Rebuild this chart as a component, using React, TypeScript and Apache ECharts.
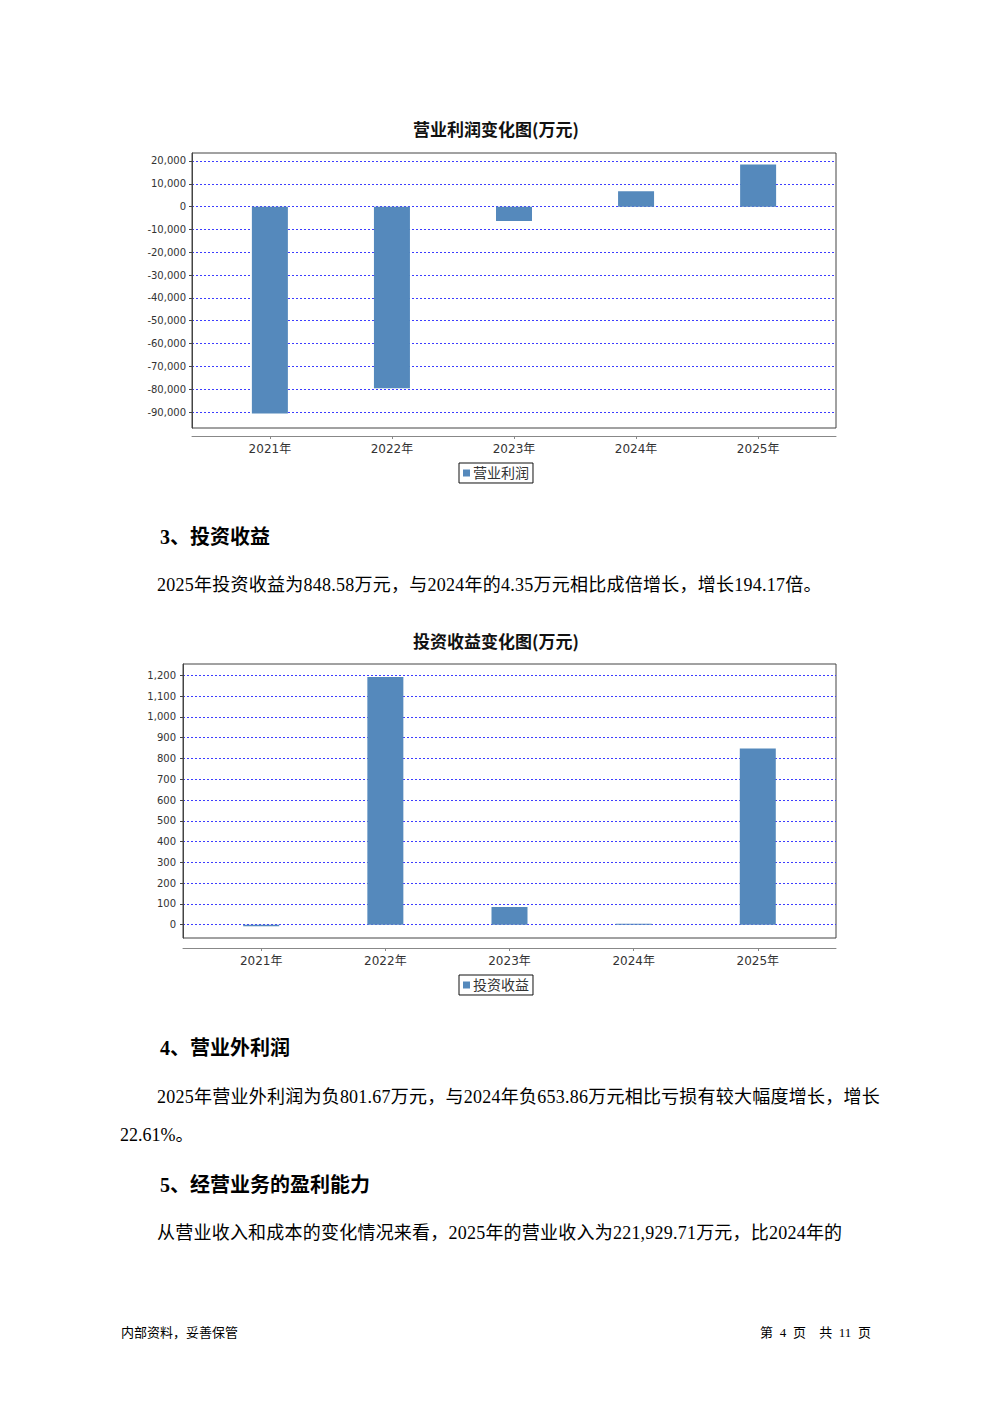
import React, { useEffect, useRef } from "react";
import * as echarts from "echarts";

const years = ["2021年", "2022年", "2023年", "2024年", "2025年"];
const yearIndex = [0, 1, 2, 3, 4];
const profitName = "营业利润";
const profitValues = [-90600, -79600, -6300, 6700, 18500];
const investName = "投资收益";
const investValues = [-8, 1192, 85, 4.35, 848.58];
const titles = ["营业利润变化图(万元)", "投资收益变化图(万元)"];

const headingFont = '"Liberation Serif", "Noto Sans CJK SC", serif';
const bodyFont = '"Liberation Serif", "Noto Sans CJK SC", serif';
const axisFont = '"DejaVu Sans", "Noto Sans CJK SC", sans-serif';

const barColor = "#5589bc";

function fmt(v: number): string {
  const s = Math.abs(Math.round(v)).toString().replace(/\B(?=(\d{3})+(?!\d))/g, ",");
  return (v < 0 ? "-" : "") + s;
}

function xAxisFor(gridIndex: number, min: number, max: number, offset: number, margin: number) {
  return {
    type: "value",
    gridIndex,
    min,
    max,
    minInterval: 1,
    maxInterval: 1,
    offset,
    position: "bottom",
    axisLine: { show: true, onZero: false, lineStyle: { color: "#888", width: 1 } },
    axisTick: { show: true, length: 3, customValues: yearIndex, lineStyle: { color: "#888" } },
    axisLabel: {
      customValues: yearIndex,
      showMinLabel: true,
      showMaxLabel: true,
      formatter: (v: number) => {
        const i = Math.round(v);
        return Math.abs(v - i) < 1e-6 ? years[i] ?? "" : "";
      },
      fontSize: 12,
      color: "#333",
      margin,
      fontFamily: axisFont,
    },
    splitLine: { show: false },
  };
}

function yAxisFor(gridIndex: number, min: number, max: number, step: number, margin: number) {
  return {
    type: "value",
    gridIndex,
    min,
    max,
    minInterval: step,
    maxInterval: step,
    axisLine: { show: true, onZero: false, lineStyle: { color: "#444", width: 1 } },
    axisTick: { show: true, length: 3, lineStyle: { color: "#444" } },
    axisLabel: {
      showMinLabel: false,
      showMaxLabel: false,
      fontSize: 10,
      color: "#333",
      margin,
      fontFamily: axisFont,
      formatter: (v: number) => fmt(v),
    },
    splitLine: {
      show: true,
      showMinLine: false,
      showMaxLine: false,
      lineStyle: { color: "#3d3dff", type: [2, 2], width: 1 },
    },
  };
}

function legendFor(name: string, top: number) {
  return {
    data: [name],
    left: "center",
    top,
    icon: "rect",
    itemWidth: 7,
    itemHeight: 7,
    itemGap: 5,
    borderColor: "#111",
    borderWidth: 1,
    borderRadius: 0,
    padding: [3, 4, 3, 4],
    textStyle: { fontSize: 14, color: "#333", fontFamily: axisFont, padding: [0, 0, 0, -2] },
  };
}

const textBlocks: { text: string; left?: number; right?: number; top: number; size: number; lh: number; bold?: boolean; ls?: number; ws?: number }[] = [
  { text: "3、投资收益", left: 160, top: 525, size: 20, lh: 24, bold: true },
  { text: "2025年投资收益为848.58万元，与2024年的4.35万元相比成倍增长，增长194.17倍。", left: 157, top: 573, size: 18, lh: 24, ls: 0.25 },
  { text: "4、营业外利润", left: 160, top: 1036, size: 20, lh: 24, bold: true },
  { text: "2025年营业外利润为负801.67万元，与2024年负653.86万元相比亏损有较大幅度增长，增长", left: 157, top: 1085, size: 18, lh: 24, ls: 0.24 },
  { text: "22.61%。", left: 120, top: 1123, size: 18, lh: 24 },
  { text: "5、经营业务的盈利能力", left: 160, top: 1173, size: 20, lh: 24, bold: true },
  { text: "从营业收入和成本的变化情况来看，2025年的营业收入为221,929.71万元，比2024年的", left: 157, top: 1221, size: 18, lh: 24, ls: 0.22 },
  { text: "内部资料，妥善保管", left: 121, top: 1325, size: 13, lh: 16 },
  { text: "第 4 页  共 11 页", right: 121, top: 1325, size: 13, lh: 16, ws: 3.4 },
];

export default function App() {
  const ref = useRef<HTMLDivElement>(null);

  useEffect(() => {
    if (!ref.current) return;
    const chart = echarts.init(ref.current, undefined, { renderer: "svg" });
    chart.setOption({
      animation: false,
      backgroundColor: "#fff",
      title: [
        { text: titles[0], left: "center", top: 115, textStyle: { fontSize: 17, fontWeight: "bold", color: "#111", fontFamily: "Noto Sans CJK SC" } },
        { text: titles[1], left: "center", top: 627, textStyle: { fontSize: 17, fontWeight: "bold", color: "#111", fontFamily: "Noto Sans CJK SC" } },
      ],
      legend: [legendFor(profitName, 463), legendFor(investName, 975)],
      grid: [
        { left: 192, right: 156, top: 153, bottom: 1403 - 428, show: true, borderColor: "#444", borderWidth: 1, backgroundColor: "transparent" },
        { left: 183, right: 156, top: 664, bottom: 1403 - 938, show: true, borderColor: "#444", borderWidth: 1, backgroundColor: "transparent" },
      ],
      xAxis: [xAxisFor(0, -0.638, 4.638, 8, 7), xAxisFor(1, -0.63, 4.63, 10, 7)],
      yAxis: [yAxisFor(0, -97000, 23500, 10000, 6), yAxisFor(1, -64, 1255, 100, 7)],
      series: [
        {
          name: profitName,
          type: "bar",
          xAxisIndex: 0,
          yAxisIndex: 0,
          barWidth: 36,
          itemStyle: { color: barColor },
          data: profitValues.map((v, i) => [yearIndex[i], v]),
        },
        {
          name: investName,
          type: "bar",
          xAxisIndex: 1,
          yAxisIndex: 1,
          barWidth: 36,
          itemStyle: { color: barColor },
          data: investValues.map((v, i) => [yearIndex[i], v]),
        },
      ],
    });
    return () => chart.dispose();
  }, []);

  return (
    <div style={{ position: "absolute", left: 0, top: 0, width: 992, height: 1403, background: "#fff", overflow: "hidden" }}>
      <div ref={ref} style={{ position: "absolute", left: 0, top: 0, width: 992, height: 1403 }} />
      {textBlocks.map((b, i) => (
        <div
          key={i}
          style={{
            position: "absolute",
            left: b.left,
            right: b.right,
            top: b.top,
            fontSize: b.size,
            lineHeight: b.lh + "px",
            fontWeight: b.bold ? 700 : 400,
            fontFamily: b.bold ? headingFont : bodyFont,
            letterSpacing: b.ls ? b.ls + "px" : undefined,
            wordSpacing: b.ws ? b.ws + "px" : undefined,
            whiteSpace: "pre",
            color: "#000",
          }}
        >
          {b.text}
        </div>
      ))}
    </div>
  );
}
